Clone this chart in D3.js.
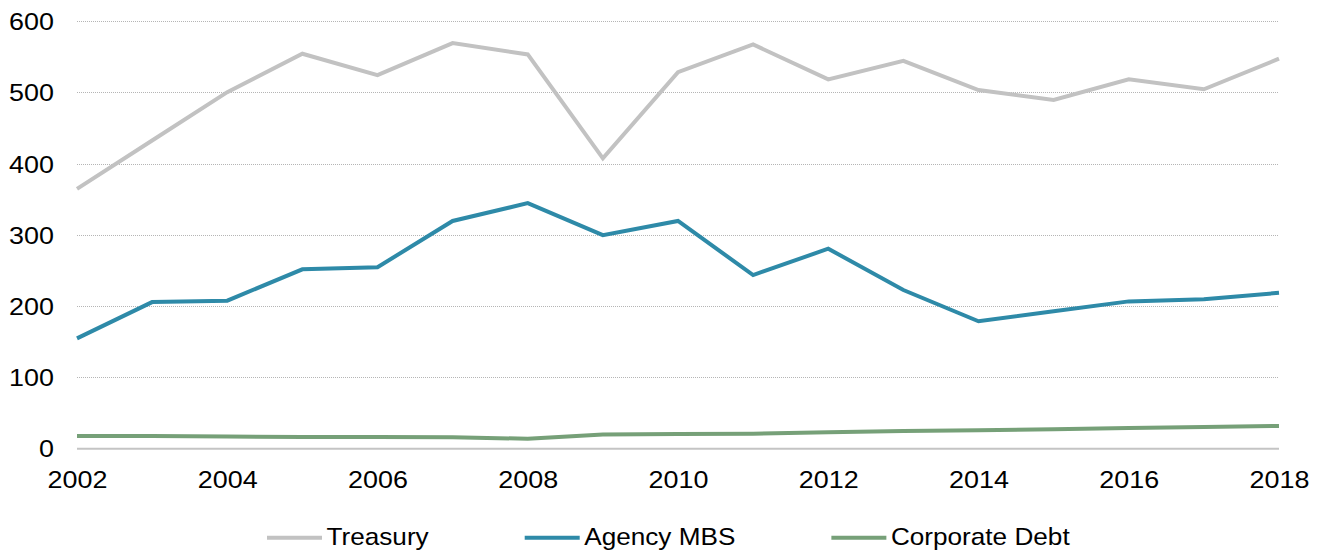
<!DOCTYPE html>
<html>
<head>
<meta charset="utf-8">
<script src="https://cdn.jsdelivr.net/npm/d3@7"></script>
<style>
  html, body { margin: 0; padding: 0; background: #fff; }
  svg { display: block; }
  text { font-family: "Liberation Sans", Arial, sans-serif; fill: #000; }
</style>
</head>
<body>
<svg id="chart" width="1319" height="552"></svg>
<script>
const years = [2002,2003,2004,2005,2006,2007,2008,2009,2010,2011,2012,2013,2014,2015,2016,2017,2018];
const treasury = [365,433,501,555,525,570,554,408,529,568,519,545,504,490,519,505,548];
const agencyMBS = [155,206,208,252,255,320,345,300,320,244,281,223,179,193,207,210,219];
const corporateDebt = [18,18,17,16.5,16.5,16,14,20,20.5,21,23,25,26,27.5,29,30.5,32];
const xTicks = [2002,2004,2006,2008,2010,2012,2014,2016,2018];
const yTicks = [0,100,200,300,400,500,600];
const seriesNames = ["Treasury","Agency MBS","Corporate Debt"];
const seriesColors = ["#c2c2c2","#2e8aa8","#76a078"];

const series = [
  {name: seriesNames[0], values: treasury, color: seriesColors[0]},
  {name: seriesNames[1], values: agencyMBS, color: seriesColors[1]},
  {name: seriesNames[2], values: corporateDebt, color: seriesColors[2]}
];

const svg = d3.select("#chart");
const x = d3.scaleLinear().domain([2002, 2018]).range([77, 1279]);
const y = d3.scaleLinear().domain([0, 600]).range([448.7, 21.7]);

// gridlines
const grid = svg.append("g");
grid.selectAll("line").data(yTicks.filter(d => d > 0)).join("line")
  .attr("x1", x(2002)).attr("x2", x(2018))
  .attr("y1", d => y(d)).attr("y2", d => y(d))
  .attr("stroke", "#b5b5b5").attr("stroke-width", 1)
  .attr("stroke-dasharray", "1,1")
  .attr("shape-rendering", "crispEdges");

// baseline
svg.append("line")
  .attr("x1", x(2002)).attr("x2", x(2018))
  .attr("y1", y(0)).attr("y2", y(0))
  .attr("stroke", "#c4c4c4").attr("stroke-width", 2);

// y axis labels
const yAxis = d3.axisLeft(y).tickValues(yTicks).tickSize(0).tickPadding(0);
const yg = svg.append("g").attr("transform", "translate(54,0)").call(yAxis);
yg.select(".domain").remove();
yg.selectAll("text")
  .attr("font-size", 23)
  .attr("font-family", "Liberation Sans, Arial, sans-serif")
  .attr("fill", "#000")
  .attr("dy", "0.35em")
  .attr("x", 0)
  .attr("transform", function() {
    return null;
  });
yg.selectAll(".tick").each(function() {
  const t = d3.select(this).select("text");
  // horizontal stretch anchored at the right edge
  t.attr("transform", "scale(1.17,1)");
});

// x axis labels
const xAxis = d3.axisBottom(x).tickValues(xTicks).tickFormat(d3.format("d")).tickSize(0).tickPadding(0);
const xg = svg.append("g").attr("transform", "translate(0,488.3)").call(xAxis);
xg.select(".domain").remove();
xg.selectAll("text")
  .attr("font-size", 23)
  .attr("font-family", "Liberation Sans, Arial, sans-serif")
  .attr("fill", "#000")
  .attr("y", 0).attr("dy", 0)
  .attr("transform", "scale(1.17,1)");

// lines
const line = d3.line().x((d, i) => x(years[i])).y(d => y(d));
svg.append("g").selectAll("path").data(series).join("path")
  .attr("d", d => line(d.values))
  .attr("fill", "none")
  .attr("stroke", d => d.color)
  .attr("stroke-width", 4)
  .attr("stroke-linejoin", "miter")
  .attr("stroke-linecap", "butt");

// legend
const legend = svg.append("g");
let lx = 267;
const ly = 537.7;
series.forEach((s) => {
  legend.append("line")
    .attr("x1", lx).attr("x2", lx + 55)
    .attr("y1", ly).attr("y2", ly)
    .attr("stroke", s.color).attr("stroke-width", 4);
  const tx = lx + 59.5;
  const t = legend.append("text")
    .attr("x", 0).attr("y", 0)
    .attr("font-size", 24)
    .attr("transform", `translate(${tx},${ly + 6.8}) scale(1.09,1)`)
    .text(s.name);
  const w = t.node().getComputedTextLength() * 1.09;
  lx = tx + w + 96;
});
</script>
</body>
</html>
